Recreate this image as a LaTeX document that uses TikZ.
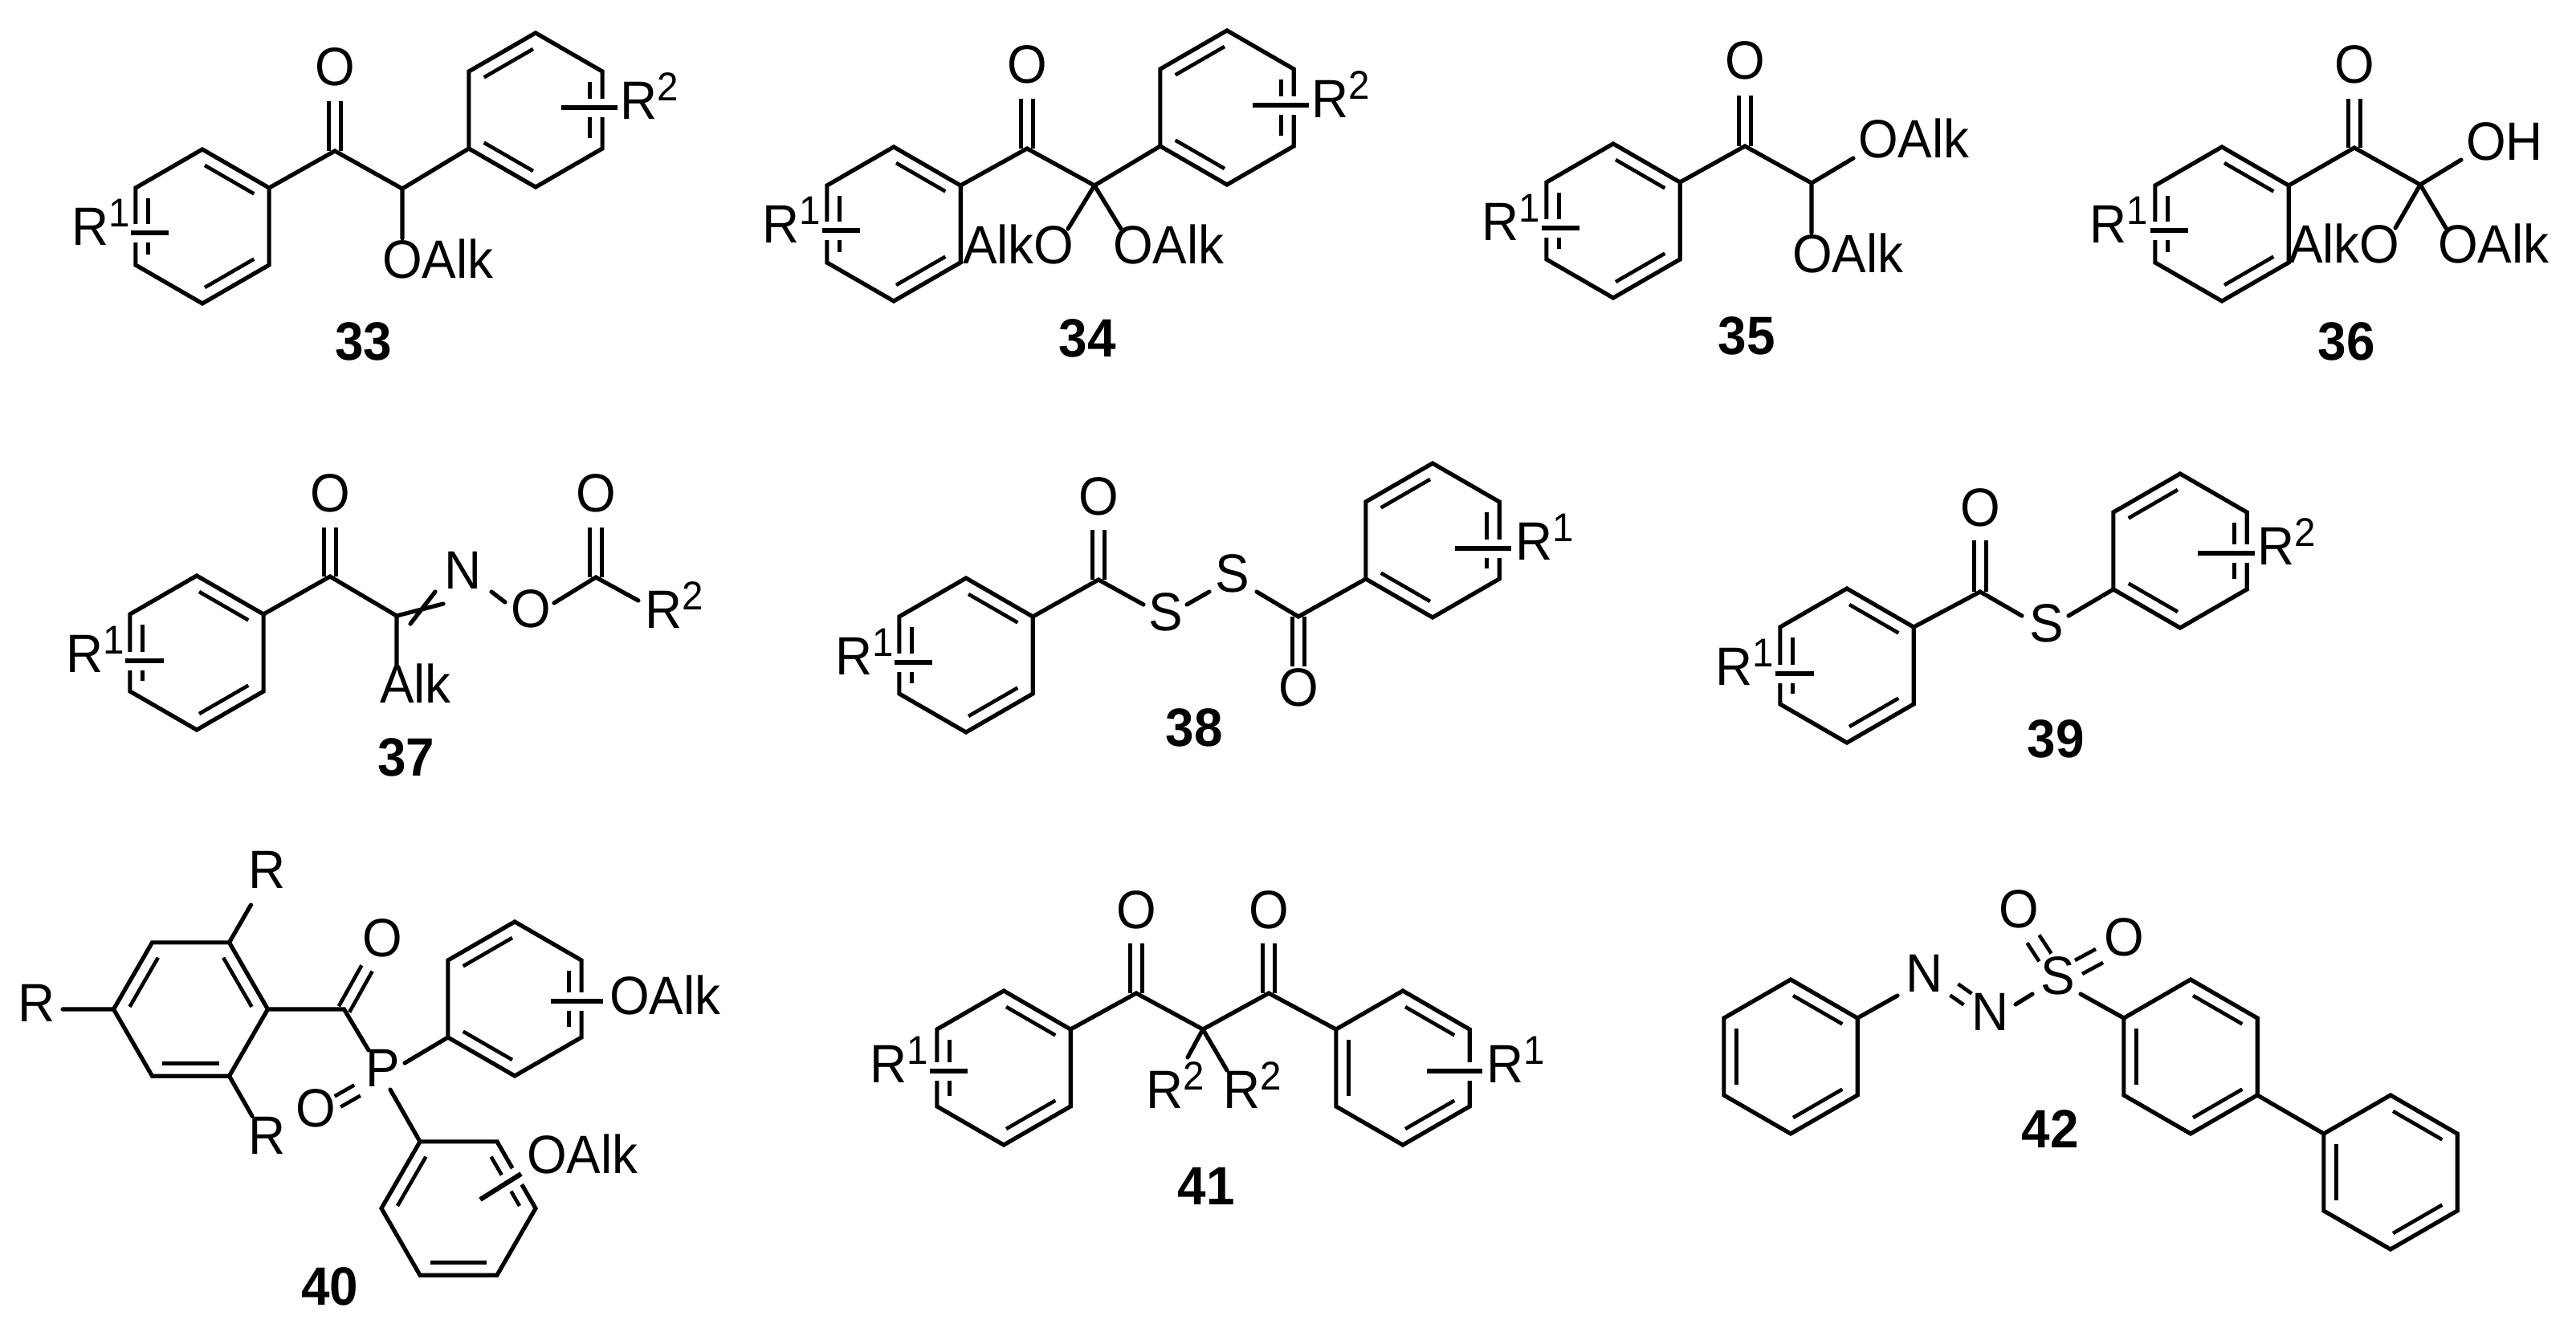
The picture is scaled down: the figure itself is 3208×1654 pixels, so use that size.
\documentclass[tikz,border=0pt]{standalone}
\usepackage{fontspec}
\setmainfont{Liberation Sans}[FakeStretch=0.95]
\usetikzlibrary{calc}
\tikzset{
  bond/.style={line width=2.6pt,line cap=round,line join=miter},
  dblline/.style={line width=2.3pt,line cap=butt},
  innerbond/.style={line width=2.3pt,line cap=butt,shorten >=1.75pt,shorten <=1.75pt},
  halo/.style={white,line width=11.5pt,line cap=butt},
  barline/.style={line width=3pt,line cap=butt},
  atom/.style={inner sep=0pt,outer sep=0pt,anchor=base west,font=\fontsize{33.6}{34}\selectfont},
  cmpd/.style={inner sep=0pt,outer sep=0pt,anchor=base,font=\fontsize{33.6}{34}\selectfont\bfseries}
}
\newcommand\Rs[1]{R\raisebox{11.5pt}{\fontsize{25}{25}\selectfont #1}}
\newcommand\hexring[5]{%
  \coordinate (#1c) at (#2,#3);
  \foreach \i in {1,...,6} {\coordinate (#1v\i) at ($(#2,#3)+({#4+60*(\i-1)}:96)$);}
  \draw[bond] (#1v1)--(#1v2)--(#1v3)--(#1v4)--(#1v5)--(#1v6)--cycle;
  \foreach \p/\q in {#5} {\draw[innerbond] ($(#1v\p)!.19!(#1c)$) -- ($(#1v\q)!.19!(#1c)$);}
}
\newcommand\subbar[5]{%
  \coordinate (#1s) at (#2,#3);
  \coordinate (#1e) at (#4,#5);
  \draw[halo] (#1s)--(#1e);
  \draw[barline] (#1s)--(#1e);
}
\newcommand\dbl[3]{\draw[dblline] ($(#1)!#3!90:(#2)$) -- ($(#2)!#3!-90:(#1)$) ($(#1)!#3!-90:(#2)$) -- ($(#2)!#3!90:(#1)$);}
\begin{document}
\begin{tikzpicture}[x=.5pt,y=-.5pt]
\useasboundingbox (0,0) rectangle (3208,1654);
% ---------- 33
\hexring{pa}{252}{282}{-90}{1/2,3/4,5/6}
\hexring{pb}{667}{137}{-90}{6/1,2/3,5/4}
\coordinate (pc) at (417,188); \coordinate (pq) at (501,235);
\coordinate (pot) at (417,126); \coordinate (pqe) at (501,297);
\draw[bond] (pav2)--(pc)--(pq)--(pbv5) (pq)--(pqe);
\dbl{pc}{pot}{3.8pt}
\subbar{pr}{163}{290}{210}{290}
\subbar{ps}{699}{134}{769}{134}
\node[atom] (pO) at (392,106) {O};
\node[atom] (pOA) at (476,346) {OAlk};
\node[atom] (pR1) at (89,305) {\Rs{1}};
\node[atom] (pR2) at (772,148) {\Rs{2}};
\node[cmpd] (pn) at (453,448) {33};
% ---------- 34
\hexring{qa}{1113}{279}{-90}{1/2,3/4,5/6}
\hexring{qb}{1528}{134}{-90}{6/1,2/3,5/4}
\coordinate (qc) at (1279,185); \coordinate (qq) at (1363,231);
\coordinate (qot) at (1279,123); \coordinate (qe1) at (1330,285); \coordinate (qe2) at (1396,285);
\draw[bond] (qav2)--(qc)--(qq)--(qbv5) (qq)--(qe1) (qq)--(qe2);
\dbl{qc}{qot}{3.8pt}
\subbar{qr}{1024}{287}{1071}{287}
\subbar{qs}{1560}{131}{1630}{131}
\node[atom] (qO) at (1254,103) {O};
\node[atom] (qAO) at (1199,328) {AlkO};
\node[atom] (qOA) at (1386,328) {OAlk};
\node[atom] (qR1) at (949,302) {\Rs{1}};
\node[atom] (qR2) at (1633,146) {\Rs{2}};
\node[cmpd] (qn) at (1354,444) {34};
% ---------- 35
\hexring{ra}{2009}{275}{-90}{1/2,3/4,5/6}
\coordinate (rc) at (2173,182); \coordinate (rq) at (2256,228);
\coordinate (rot) at (2173,119); \coordinate (re1) at (2308,197); \coordinate (re2) at (2256,290);
\draw[bond] (rav2)--(rc)--(rq)--(re1) (rq)--(re2);
\dbl{rc}{rot}{3.8pt}
\subbar{rr}{1920}{284}{1967}{284}
\node[atom] (rO) at (2148,98) {O};
\node[atom] (rOA1) at (2314,196) {OAlk};
\node[atom] (rOA2) at (2232,339) {OAlk};
\node[atom] (rR1) at (1845,299) {\Rs{1}};
\node[cmpd] (rn) at (2175,441) {35};
% ---------- 36
\hexring{sa}{2767}{279}{-90}{1/2,3/4,5/6}
\coordinate (sc) at (2932,184); \coordinate (sq) at (3014,230);
\coordinate (sot) at (2932,123); \coordinate (se1) at (3065,199); \coordinate (se2) at (2983,284); \coordinate (se3) at (3046,284);
\draw[bond] (sav2)--(sc)--(sq)--(se1) (sq)--(se2) (sq)--(se3);
\dbl{sc}{sot}{3.8pt}
\subbar{sr}{2678}{287}{2725}{287}
\node[atom] (sO) at (2907,103) {O};
\node[atom] (sOH) at (3071,199) {OH};
\node[atom] (sAO) at (2850,327) {AlkO};
\node[atom] (sOA) at (3036,327) {OAlk};
\node[atom] (sR1) at (2602,302) {\Rs{1}};
\node[cmpd] (sn) at (2922,448) {36};
% ---------- 37
\hexring{ta}{245}{813}{-90}{1/2,3/4,5/6}
\coordinate (tc) at (411,718); \coordinate (tq) at (494,767);
\coordinate (tot) at (411,657); \coordinate (tal) at (494,828);
\coordinate (tx1) at (552,752); \coordinate (tx2) at (511,777); \coordinate (tx3) at (542,737);
\coordinate (tn1) at (612,737); \coordinate (tn2) at (629,750);
\coordinate (to1) at (690,751); \coordinate (td) at (742,719); \coordinate (tdo) at (742,657); \coordinate (tre) at (795,748);
\draw[bond] (tav2)--(tc)--(tq)--(tal) (tq)--(tx1) (tx2)--(tx3) (tn1)--(tn2) (to1)--(td)--(tre);
\dbl{tc}{tot}{3.8pt}
\dbl{td}{tdo}{3.8pt}
\subbar{tr}{156}{823}{204}{823}
\node[atom] (tO) at (386,637) {O};
\node[atom] (tO2) at (717,637) {O};
\node[atom] (tN) at (553,733) {N};
\node[atom] (tO3) at (636,781) {O};
\node[atom] (tAlk) at (473,875) {Alk};
\node[atom] (tR2) at (803,782) {\Rs{2}};
\node[atom] (tR1) at (82,837) {\Rs{1}};
\node[cmpd] (tnn) at (506,966) {37};
% ---------- 38
\hexring{ua}{1203}{816}{-90}{1/2,3/4,5/6}
\hexring{ub}{1784}{673}{-90}{6/1,2/3,5/4}
\coordinate (uc) at (1368,722); \coordinate (uot) at (1368,660);
\coordinate (us1) at (1424,753); \coordinate (us2) at (1478,753); \coordinate (us3) at (1506,737);
\coordinate (us4) at (1565,737); \coordinate (ud) at (1617,768); \coordinate (udo) at (1617,830);
\draw[bond] (uav2)--(uc)--(us1) (us2)--(us3) (us4)--(ud)--(ubv5);
\dbl{uc}{uot}{3.8pt}
\dbl{ud}{udo}{3.8pt}
\subbar{ur}{1114}{825}{1161}{825}
\subbar{us}{1812}{683}{1882}{683}
\node[atom] (uO) at (1343,641) {O};
\node[atom] (uO2) at (1592,879) {O};
\node[atom] (uS1) at (1430,785) {S};
\node[atom] (uS2) at (1513,737) {S};
\node[atom] (uR1) at (1040,840) {\Rs{1}};
\node[atom] (uR2) at (1887,697) {\Rs{1}};
\node[cmpd] (un) at (1487,929) {38};
% ---------- 39
\hexring{va}{2300}{829}{-90}{1/2,3/4,5/6}
\hexring{vb}{2715}{686}{-90}{6/1,2/3,5/4}
\coordinate (vc) at (2466,737); \coordinate (vot) at (2466,673);
\coordinate (vs1) at (2518,767); \coordinate (vs2) at (2576,767);
\draw[bond] (vav2)--(vc)--(vs1) (vs2)--(vbv5);
\dbl{vc}{vot}{3.8pt}
\subbar{vr}{2211}{839}{2259}{839}
\subbar{vs}{2737}{689}{2808}{689}
\node[atom] (vO) at (2441,655) {O};
\node[atom] (vS) at (2527,799) {S};
\node[atom] (vR1) at (2136,853) {\Rs{1}};
\node[atom] (vR2) at (2811,703) {\Rs{2}};
\node[cmpd] (vn) at (2560,943) {39};
% ---------- 40
\hexring{wa}{237.5}{1257}{-120}{6/1,2/3,4/5}
\hexring{wb}{641}{1244}{-90}{6/1,2/3,5/4}
\hexring{wc}{571}{1505}{-120}{6/1,2/3,4/5}
\coordinate (wc0) at (428.5,1257); \coordinate (wco) at (457,1206);
\coordinate (wrt) at (312.5,1127); \coordinate (wrl) at (78,1257); \coordinate (wrb) at (314,1390);
\coordinate (wp1) at (459,1308); \coordinate (wp2) at (504,1324); \coordinate (wp3) at (486,1357);
\coordinate (wpo1) at (420.5,1372); \coordinate (wpo2) at (445,1358);
\draw[bond] (wav2)--(wrt) (wav6)--(wrl) (wav4)--(wrb) (wav3)--(wc0)--(wp1) (wp2)--(wbv5) (wp3)--(wcv1);
\dbl{wc0}{wco}{3.8pt}
\dbl{wpo1}{wpo2}{3.8pt}
\subbar{wr}{686}{1247}{751}{1247}
\subbar{ws}{598}{1494}{649}{1462}
\node[atom] (wR1) at (309,1106) {R};
\node[atom] (wR2) at (22,1272) {R};
\node[atom] (wR3) at (309,1437) {R};
\node[atom] (wO) at (451,1191) {O};
\node[atom] (wO2) at (368,1403) {O};
\node[atom] (wP) at (455,1353) {P};
\node[atom] (wOA1) at (759,1263) {OAlk};
\node[atom] (wOA2) at (656,1461) {OAlk};
\node[cmpd] (wn) at (411,1625) {40};
% ---------- 41
\hexring{xa}{1250}{1330}{-90}{1/2,3/4,5/6}
\hexring{xb}{1747}{1330}{-90}{1/2,3/4,5/6}
\coordinate (xc1) at (1415,1237); \coordinate (xq) at (1498,1282); \coordinate (xc2) at (1580,1237);
\coordinate (xo1) at (1415,1175); \coordinate (xo2) at (1580,1175);
\coordinate (xe1) at (1479,1317); \coordinate (xe2) at (1528,1333);
\draw[bond] (xav2)--(xc1)--(xq)--(xc2)--(xbv6) (xq)--(xe1) (xq)--(xe2);
\dbl{xc1}{xo1}{3.8pt}
\dbl{xc2}{xo2}{3.8pt}
\subbar{xr}{1158}{1334}{1205}{1334}
\subbar{xs}{1777}{1334}{1846}{1334}
\node[atom] (xO1) at (1390,1156) {O};
\node[atom] (xO2) at (1555,1156) {O};
\node[atom] (xR1) at (1083,1348) {\Rs{1}};
\node[atom] (xR2) at (1851,1348) {\Rs{1}};
\node[atom] (xR3) at (1427,1380) {\Rs{2}};
\node[atom] (xR4) at (1523,1380) {\Rs{2}};
\node[cmpd] (xn) at (1502,1500) {41};
% ---------- 42
\hexring{ya}{2230}{1316}{-90}{1/2,3/4,5/6}
\hexring{yb}{2728}{1316}{-90}{1/2,3/4,5/6}
\hexring{yc}{2977}{1460}{-90}{1/2,3/4,5/6}
\coordinate (yn1) at (2363,1240);
\coordinate (ynn1) at (2433.5,1232.5); \coordinate (ynn2) at (2450.5,1244.5);
\coordinate (yn2) at (2510,1251); \coordinate (ys1) at (2531,1238);
\coordinate (ys2) at (2591,1238);
\coordinate (yso1) at (2547,1192.5); \coordinate (yso2) at (2532,1169.5);
\coordinate (yso3) at (2588.5,1204.5); \coordinate (yso4) at (2614.5,1190.5);
\draw[bond] (yav2)--(yn1) (yn2)--(ys1) (ys2)--(ybv6) (ybv3)--(ycv6);
\dbl{ynn1}{ynn2}{4.3pt}
\dbl{yso1}{yso2}{4.5pt}
\dbl{yso3}{yso4}{4.8pt}
\node[atom] (yN1) at (2373,1235) {N};
\node[atom] (yN2) at (2455,1283) {N};
\node[atom] (yS) at (2541,1238) {S};
\node[atom] (yO1) at (2489,1155) {O};
\node[atom] (yO2) at (2620,1190) {O};
\node[cmpd] (yn) at (2553,1429) {42};
\end{tikzpicture}
\end{document}
